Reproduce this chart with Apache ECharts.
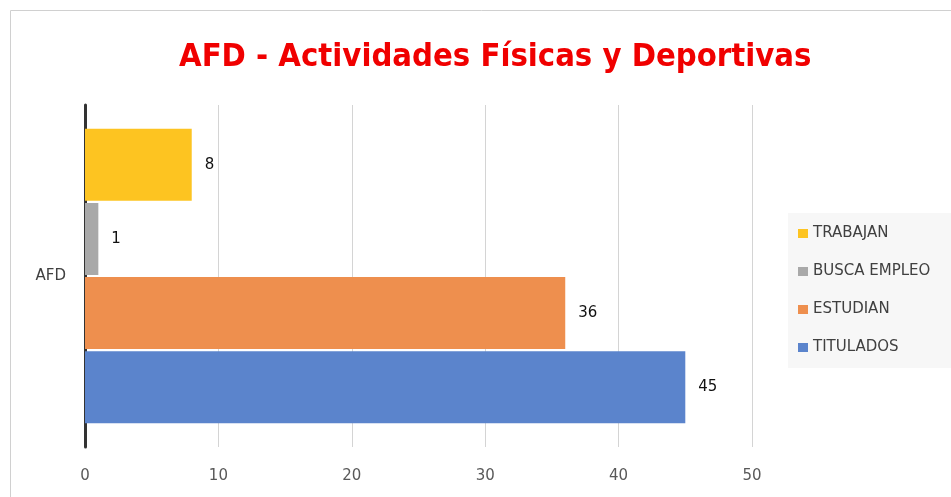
<!DOCTYPE html>
<html>
<head>
<meta charset="utf-8">
<script src="https://cdn.jsdelivr.net/npm/echarts@6/dist/echarts.min.js"></script>
<style>
  html, body { margin: 0; padding: 0; background: #fff; }
  #chart { width: 951px; height: 497px; }
</style>
</head>
<body>
<div id="chart"></div>
<script>
"use strict";

const categories = ['AFD'];
// ECharts lays the first series at the top of the band
const seriesNames = ['TRABAJAN', 'BUSCA EMPLEO', 'ESTUDIAN', 'TITULADOS'];
const seriesValues = [[8], [1], [36], [45]];
const seriesColors = ['#fdc421', '#a9a9a9', '#ee8f4e', '#5b84cc'];
const xTicks = { min: 0, max: 50, interval: 10 };

const chart = echarts.init(document.getElementById('chart'));

const series = seriesNames.map((name, i) => ({
    name: name,
    type: 'bar',
    data: seriesValues[i],
    barWidth: 72,
    barGap: '3%',
    itemStyle: { color: seriesColors[i] },
    label: {
        show: true,
        position: 'right',
        distance: 13,
        color: '#111',
        fontSize: 15,
        fontFamily: 'DejaVu Sans'
    }
}));

const option = {
    animation: false,
    title: {
        text: 'AFD - Actividades Físicas y Deportivas',
        left: 174,
        top: 36,
        textStyle: {
            color: '#f00000',
            fontSize: 32.5,
            fontWeight: 'bold',
            fontFamily: 'DejaVu Sans Condensed'
        }
    },
    graphic: [{
        type: 'rect',
        left: 8,
        top: 8,
        shape: { width: 960, height: 500 },
        style: { fill: 'none', stroke: '#d0d0d0', lineWidth: 1 },
        silent: true,
        z: -1
    }],
    legend: {
        data: seriesNames,
        orient: 'vertical',
        left: 788,
        top: 213,
        backgroundColor: '#f7f7f7',
        padding: [13, 40, 13, 10],
        itemWidth: 10,
        itemHeight: 9,
        itemGap: 23,
        icon: 'rect',
        textStyle: { color: '#404040', fontSize: 15, fontFamily: 'DejaVu Sans' }
    },
    grid: { left: 85, right: 199, top: 105, bottom: 50 },
    xAxis: {
        type: 'value',
        min: xTicks.min,
        max: xTicks.max,
        interval: xTicks.interval,
        axisLine: { show: false },
        axisTick: { show: false },
        axisLabel: { color: '#595959', fontSize: 15, margin: 22, fontFamily: 'DejaVu Sans' },
        splitLine: { lineStyle: { color: '#d4d4d4', width: 1 } }
    },
    yAxis: {
        type: 'category',
        data: categories,
        axisLine: { lineStyle: { color: '#333', width: 3 } },
        axisTick: { show: false },
        axisLabel: { color: '#404040', fontSize: 15, margin: 19, fontFamily: 'DejaVu Sans' }
    },
    series: series
};

option && chart.setOption(option);
</script>
</body>
</html>
